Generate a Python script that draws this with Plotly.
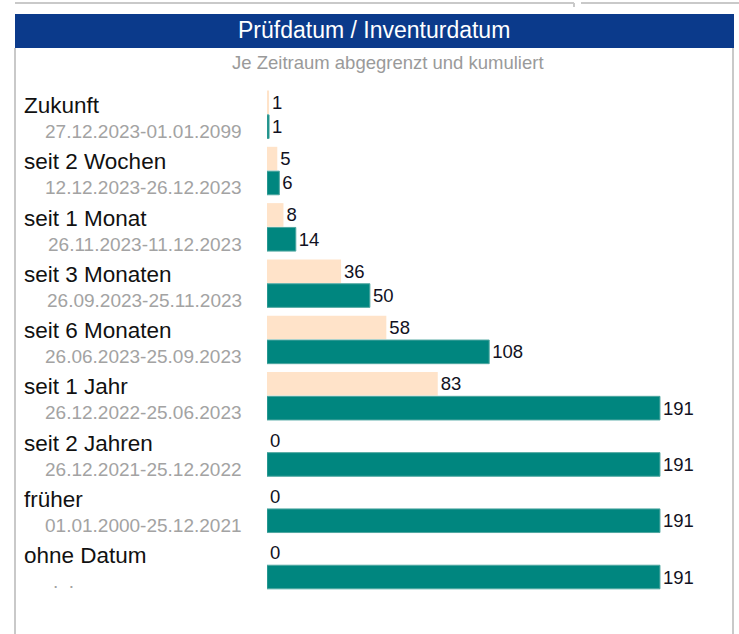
import plotly.graph_objects as go

# Zeiträume (von oben nach unten)
categories = ["Zukunft", "seit 2 Wochen", "seit 1 Monat", "seit 3 Monaten",
              "seit 6 Monaten", "seit 1 Jahr", "seit 2 Jahren", "früher", "ohne Datum"]
date_ranges = ["27.12.2023-01.01.2099", "12.12.2023-26.12.2023", "26.11.2023-11.12.2023",
               "26.09.2023-25.11.2023", "26.06.2023-25.09.2023", "26.12.2022-25.06.2023",
               "26.12.2021-25.12.2022", "01.01.2000-25.12.2021", ".\u00a0\u00a0."]
# je Zeitraum abgegrenzt
values_period = [1, 5, 8, 36, 58, 83, 0, 0, 0]
# kumuliert
values_cumulative = [1, 6, 14, 50, 108, 191, 191, 191, 191]

W, H = 739, 634
ML, MR, MT, MB = 267, 6, 85, 41
PW, PH = W - ML - MR, H - MT - MB
X_MAX = 226.5

FONT = "Liberation Sans, Arial, sans-serif"
BLUE = "#0b3a8b"
PEACH = "#ffe3c9"
TEAL = "#00867f"
BORDER = "#c9c9c9"


def px_x(px):
    return (px - ML) / PW


def px_y(py):
    return (H - MB - py) / PH


fig = go.Figure()
fig.add_trace(go.Bar(
    y=categories, x=values_period, orientation="h",
    marker=dict(color=PEACH, line=dict(width=0)),
    text=values_period, textposition="outside", constraintext="none",
    textfont=dict(size=18.5, color="#111122", family=FONT),
    cliponaxis=False, hoverinfo="skip",
))
fig.add_trace(go.Bar(
    y=categories, x=values_cumulative, orientation="h",
    marker=dict(color=TEAL, line=dict(width=1, color="#4fa7a1")),
    text=values_cumulative, textposition="outside", constraintext="none",
    textfont=dict(size=18.5, color="#111122", family=FONT),
    cliponaxis=False, hoverinfo="skip",
))

annotations = []
for cat, dr in zip(categories, date_ranges):
    annotations.append(dict(
        x=px_x(22), xref="paper", y=cat, yref="y", yshift=9,
        text=cat, showarrow=False, xanchor="left", yanchor="middle",
        font=dict(size=22.5, color="#111111", family=FONT),
    ))
    is_dots = dr.startswith(".")
    annotations.append(dict(
        x=px_x(51 if is_dots else 244), xref="paper", y=cat, yref="y", yshift=-17,
        text=dr, showarrow=False, xanchor="left" if is_dots else "right", yanchor="middle",
        font=dict(size=19, color="#a3a3a3", family=FONT),
    ))

annotations.append(dict(
    x=px_x(374), xref="paper", y=px_y(30), yref="paper",
    text="Prüfdatum / Inventurdatum", showarrow=False,
    xanchor="center", yanchor="middle",
    font=dict(size=23, color="white", family=FONT),
))
annotations.append(dict(
    x=px_x(388), xref="paper", y=px_y(62), yref="paper",
    text="Je Zeitraum abgegrenzt und kumuliert", showarrow=False,
    xanchor="center", yanchor="middle",
    font=dict(size=18.5, color="#9a9a9a", family=FONT),
))

shapes = [
    # Kopfzeile
    dict(type="rect", xref="paper", yref="paper",
         x0=px_x(15), x1=px_x(734), y0=px_y(48), y1=px_y(14),
         fillcolor=BLUE, line=dict(width=0), layer="below"),
    # Rahmen links / rechts
    dict(type="line", xref="paper", yref="paper",
         x0=px_x(15), x1=px_x(15), y0=px_y(48), y1=px_y(H + 2),
         line=dict(color=BORDER, width=2)),
    dict(type="line", xref="paper", yref="paper",
         x0=px_x(733), x1=px_x(733), y0=px_y(48), y1=px_y(H + 2),
         line=dict(color=BORDER, width=2)),
    # obere Trennlinien
    dict(type="line", xref="paper", yref="paper",
         x0=px_x(15), x1=px_x(574), y0=px_y(3), y1=px_y(3),
         line=dict(color=BORDER, width=2)),
    dict(type="line", xref="paper", yref="paper",
         x0=px_x(574), x1=px_x(574), y0=px_y(3), y1=px_y(7),
         line=dict(color=BORDER, width=2)),
    dict(type="line", xref="paper", yref="paper",
         x0=px_x(581), x1=px_x(W + 2), y0=px_y(3), y1=px_y(3),
         line=dict(color=BORDER, width=2)),
]

fig.update_layout(
    width=W, height=H,
    margin=dict(l=ML, r=MR, t=MT, b=MB, pad=0),
    paper_bgcolor="white", plot_bgcolor="white",
    barmode="group", bargap=0.135, bargroupgap=0.03,
    showlegend=False,
    xaxis=dict(range=[0, X_MAX], visible=False, fixedrange=True),
    yaxis=dict(autorange="reversed", visible=False, fixedrange=True),
    annotations=annotations, shapes=shapes,
    font=dict(family=FONT),
)

fig.write_html("out.html", config=dict(displayModeBar=False))
